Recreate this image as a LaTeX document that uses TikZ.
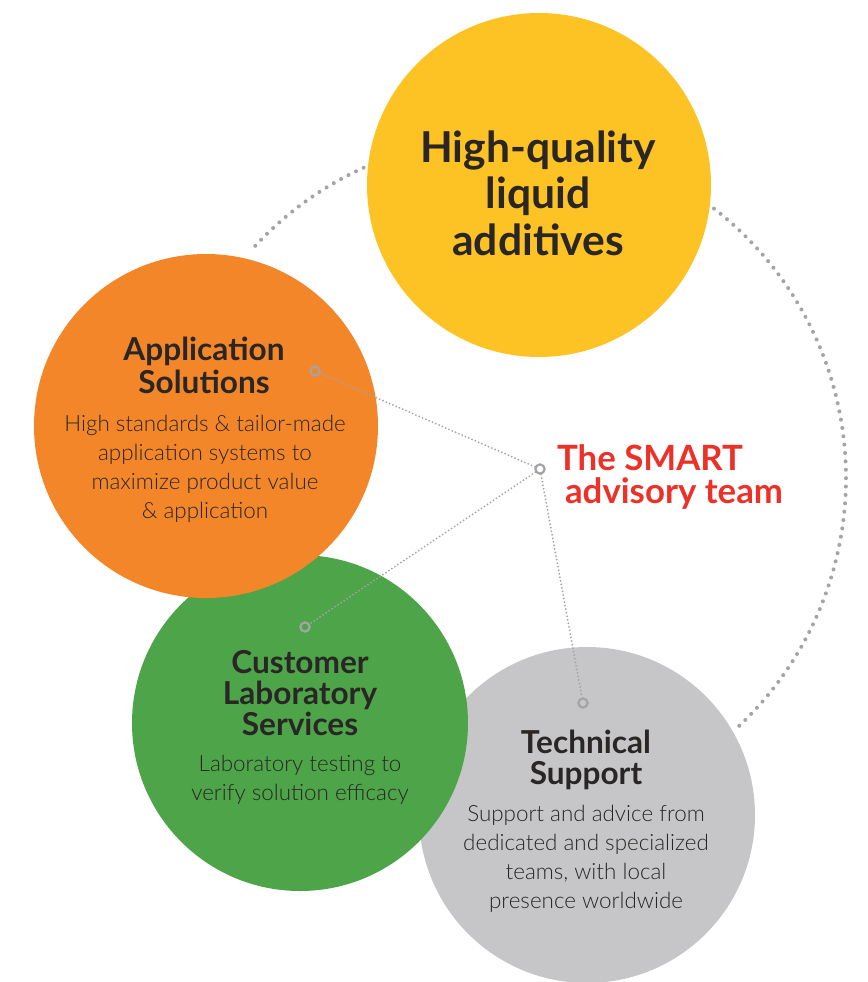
\documentclass[tikz,border=0pt]{standalone}
\usepackage{fontspec}
\setmainfont{Lato}
\newfontfamily\lightfont{Lato Light}
\definecolor{AddYellow}{HTML}{FDC324}
\definecolor{AddOrange}{HTML}{F4862A}
\definecolor{AddGreen}{HTML}{4EA449}
\definecolor{AddGrey}{HTML}{C6C6C8}
\definecolor{DotGrey}{HTML}{A3A3A8}
\definecolor{SmartRed}{HTML}{EC3129}
\definecolor{InkDark}{HTML}{2A2625}

\begin{document}
\begin{tikzpicture}[x=0.5pt,y=-0.5pt,
    bubble/.style={circle, inner sep=0pt, minimum size=#1},
    head/.style={align=center, text=InkDark, font=\bfseries\fontsize{15.8}{16.5}\selectfont},
    blurb/.style={align=center, text=InkDark, font=\lightfont\fontsize{11.2}{14.6}\selectfont},
    ring/.style={circle, draw=DotGrey, line width=1.1pt, inner sep=0pt, minimum size=4.6pt},
    link/.style={draw=DotGrey, line width=1pt, line cap=round, dash pattern=on 0pt off 1.8pt},
    orbit/.style={draw=DotGrey, line width=2pt, line cap=round, dash pattern=on 0pt off 4.2pt}]
  \useasboundingbox (0,0) rectangle (868,982);
  % dotted orbit behind the bubbles
  \coordinate (orbitc) at (505,478);
  \draw[orbit] (orbitc) ++(-114.5:341) arc[start angle=-114.5, end angle=-137.9, radius=341];
  \draw[orbit] (orbitc) ++(-52.2:341) arc[start angle=-52.2, end angle=47.3, radius=341];
  % bubbles
  \node[bubble=172pt, fill=AddYellow] (additives) at (539,185) {};
  \node[bubble=168pt, fill=AddGrey]   (techsup)   at (587,815) {};
  \node[bubble=168pt, fill=AddGreen]  (custlab)   at (300,723) {};
  \node[bubble=172pt, fill=AddOrange] (appsol)    at (206,426) {};
  % texts
  \node[head, font=\bfseries\fontsize{21.3}{23.25}\selectfont] (additivestxt) at (538,193)
    {High-quality\\liquid\\additives};
  \node[head] (appsolhead) at (204,365) {Application\\Solutions};
  \node[blurb] (appsolbody) at (205,469)
    {High standards \& tailor-made\\application systems to\\maximize product value\\\& application};
  \node[head, font=\bfseries\fontsize{15.8}{15.5}\selectfont] (custlabhead) at (300,693)
    {Customer\\Laboratory\\Services};
  \node[blurb] (custlabbody) at (300,780) {Laboratory testing to\\verify solution efficacy};
  \node[head, font=\bfseries\fontsize{15.8}{15.5}\selectfont] (techsuphead) at (586,760)
    {Technical\\Support};
  \node[blurb] (techsupbody) at (586,859)
    {Support and advice from\\dedicated and specialized\\teams, with local\\presence worldwide};
  \node[align=left, anchor=west, text=SmartRed, font=\bfseries\fontsize{17.4}{16.5}\selectfont]
    (smart) at (550,477) {The SMART\\\hspace*{4pt}advisory team};
  % hub and spokes
  \node[ring, fill=white] (hub) at (540,469) {};
  \node[ring] (appdot)  at (315,371) {};
  \node[ring] (custdot) at (305,627) {};
  \node[ring] (techdot) at (583,703) {};
  \draw[link] (hub) -- (appdot);
  \draw[link] (hub) -- (custdot);
  \draw[link] (hub) -- (techdot);
\end{tikzpicture}
\end{document}
